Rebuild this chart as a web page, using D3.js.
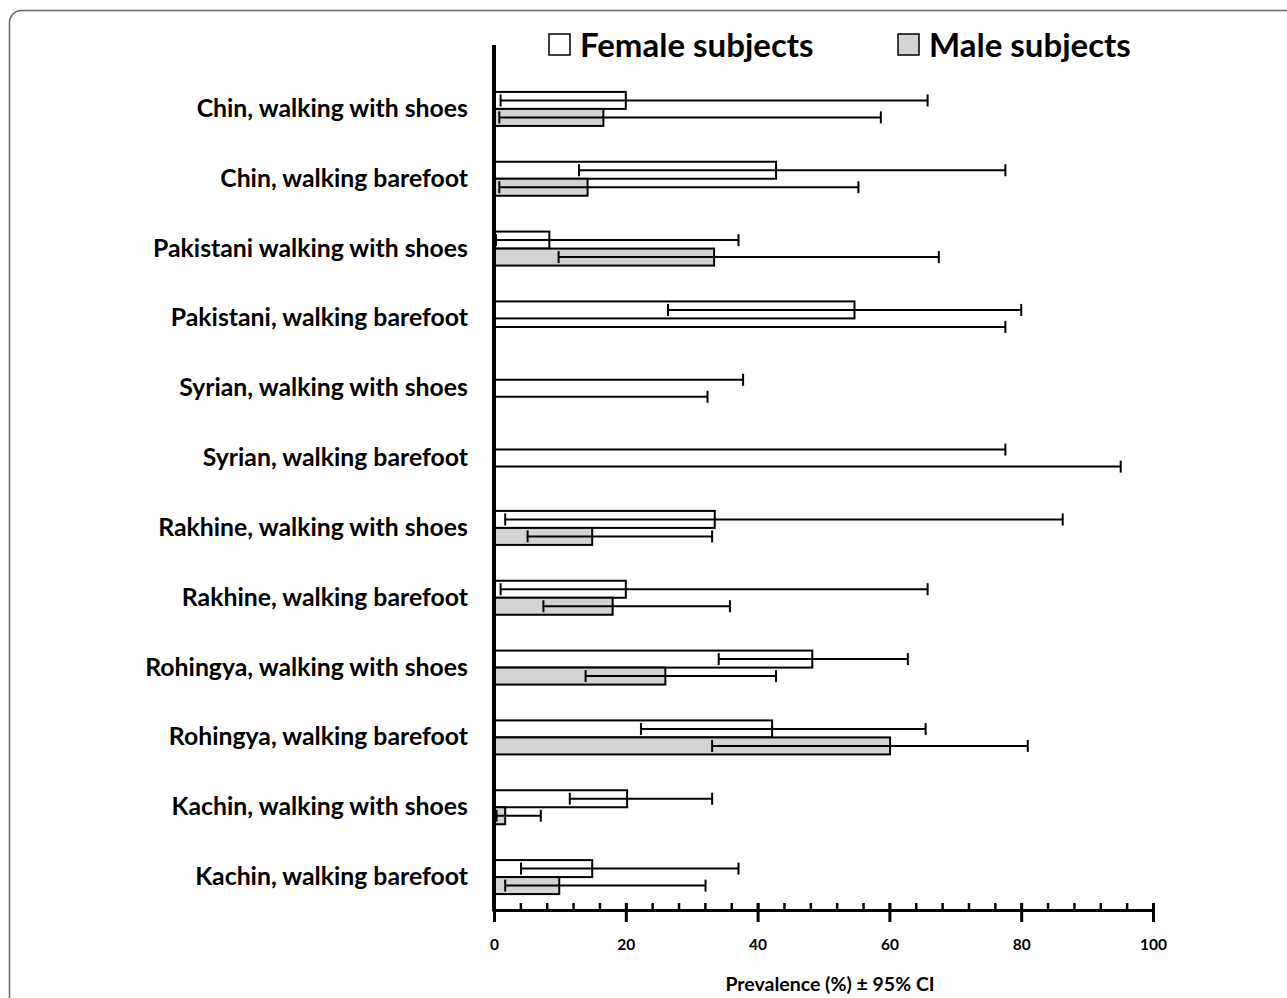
<!DOCTYPE html>
<html>
<head>
<meta charset="utf-8">
<script src="https://cdn.jsdelivr.net/npm/d3@7"></script>
<style>
  body { margin: 0; background: #fff; }
  svg { display: block; font-family: Lato, "Open Sans", sans-serif; }
</style>
</head>
<body>
<svg id="drawing_region"></svg>
<script>
// rows as they appear, top to bottom
const categories = [
  "Chin, walking with shoes",
  "Chin, walking barefoot",
  "Pakistani walking with shoes",
  "Pakistani, walking barefoot",
  "Syrian, walking with shoes",
  "Syrian, walking barefoot",
  "Rakhine, walking with shoes",
  "Rakhine, walking barefoot",
  "Rohingya, walking with shoes",
  "Rohingya, walking barefoot",
  "Kachin, walking with shoes",
  "Kachin, walking barefoot"
];

const femaleValues = [20, 42.8, 8.4, 54.7, 0, 0, 33.5, 20, 48.3, 42.2, 20.2, 14.9];
const femaleLow    = [1, 12.9, 0.3, 26.4, 0, 0, 1.7, 1, 34.1, 22.3, 11.5, 4.1];
const femaleHigh   = [65.8, 77.6, 37.1, 80, 37.8, 77.6, 86.3, 65.8, 62.8, 65.5, 33.1, 37.1];

const maleValues = [16.6, 14.2, 33.4, 0, 0, 0, 14.9, 18, 26, 60.1, 1.7, 9.9];
const maleLow    = [0.8, 0.8, 9.8, 0, 0, 0, 5.1, 7.5, 13.9, 33.1, 0.4, 1.7];
const maleHigh   = [58.7, 55.3, 67.5, 77.6, 32.4, 95.1, 33.1, 35.8, 42.8, 81, 7.1, 32.1];

const seriesNames = ["Female subjects", "Male subjects"];
const majorTicks = [0, 20, 40, 60, 80, 100];
const xTitle = "Prevalence (%) \u00b1 95% CI";

const width = 1287, height = 998;
const fills = ["#ffffff", "#d3d3d3"];

const svg = d3.select("#drawing_region")
    .attr("width", width)
    .attr("height", height);

// outer frame
svg.append("rect")
    .attr("x", 9.5).attr("y", 10.5)
    .attr("width", 1300).attr("height", 1010)
    .attr("rx", 12)
    .attr("fill", "none")
    .attr("stroke", "#666")
    .attr("stroke-width", 1.5);

const x = d3.scaleLinear().domain([0, 100]).range([494, 1153]);
const y = d3.scaleBand().domain(categories).range([74, 912]);
const barH = 17;
const axisY = 910;

const series = [
  { vals: femaleValues, lo: femaleLow, hi: femaleHigh, off: -barH },
  { vals: maleValues, lo: maleLow, hi: maleHigh, off: 0 }
];

series.forEach((s, si) => {
  const g = svg.append("g");
  const rows = categories.map((c, i) => ({ c: c, v: s.vals[i], lo: s.lo[i], hi: s.hi[i] }));
  const cy = d => y(d.c) + y.bandwidth() / 2 + s.off;

  g.selectAll("rect")
      .data(rows)
      .enter()
      .append("rect")
      .attr("x", x(0))
      .attr("y", d => cy(d))
      .attr("width", d => x(d.v) - x(0))
      .attr("height", barH)
      .attr("fill", fills[si])
      .attr("stroke", "#000")
      .attr("stroke-width", 2);

  // error bars
  g.selectAll(".err")
      .data(rows)
      .enter()
      .append("line")
      .attr("x1", d => x(d.lo))
      .attr("x2", d => x(d.hi))
      .attr("y1", d => cy(d) + barH / 2)
      .attr("y2", d => cy(d) + barH / 2)
      .attr("stroke", "#000")
      .attr("stroke-width", 2);

  ["lo", "hi"].forEach(k => {
    g.selectAll(".cap-" + k)
        .data(rows)
        .enter()
        .append("line")
        .attr("x1", d => x(d[k]))
        .attr("x2", d => x(d[k]))
        .attr("y1", d => cy(d) + barH / 2 - 6)
        .attr("y2", d => cy(d) + barH / 2 + 6)
        .attr("stroke", "#000")
        .attr("stroke-width", 2);
  });
});

// minor ticks (above the axis line)
svg.append("g")
    .attr("transform", `translate(0,${axisY})`)
    .call(d3.axisTop(x).tickValues(d3.range(0, 101, 4)).tickSize(7).tickFormat(""))
    .call(g => g.select(".domain").remove())
    .call(g => g.selectAll("line").attr("stroke-width", 2.5));

// major ticks and labels
const xAxis = svg.append("g")
    .attr("transform", `translate(0,${axisY})`)
    .call(d3.axisBottom(x).tickValues(majorTicks).tickSizeInner(12).tickSizeOuter(0));
xAxis.select(".domain").attr("stroke-width", 3);
xAxis.selectAll(".tick line").attr("y1", -7).attr("stroke-width", 3);
xAxis.selectAll(".tick text")
    .attr("y", 35)
    .attr("dy", "0.35em")
    .attr("fill", "#000")
    .style("font-family", "Lato, sans-serif")
    .style("font-size", "15.5px")
    .style("font-weight", 700);

svg.append("text")
    .attr("x", 830).attr("y", 984)
    .attr("dy", "0.35em")
    .attr("text-anchor", "middle")
    .style("font-size", "19.5px")
    .style("font-weight", 700)
    .text(xTitle);

// category axis
const yAxis = svg.append("g")
    .attr("transform", `translate(${x(0)},0)`)
    .call(d3.axisLeft(y).tickSize(0).tickPadding(26));
yAxis.select(".domain").remove();
yAxis.selectAll(".tick text")
    .attr("fill", "#000")
    .style("font-family", "Lato, sans-serif")
    .style("font-size", "24.8px")
    .style("font-weight", 700);

svg.append("line")
    .attr("x1", x(0)).attr("x2", x(0))
    .attr("y1", 45).attr("y2", axisY + 1.5)
    .attr("stroke", "#000")
    .attr("stroke-width", 4);

// legend
const legendX = [549, 898];
const legend = svg.selectAll(".legend")
    .data(seriesNames)
    .enter()
    .append("g")
    .attr("transform", (d, i) => `translate(${legendX[i]},34)`);
legend.append("rect")
    .attr("width", 21).attr("height", 21)
    .attr("fill", (d, i) => fills[i])
    .attr("stroke", "#000")
    .attr("stroke-width", 1.5);
legend.append("text")
    .attr("x", 31).attr("y", 11)
    .attr("dy", "0.35em")
    .style("font-size", "33px")
    .style("font-weight", 700)
    .text(d => d);
</script>
</body>
</html>
